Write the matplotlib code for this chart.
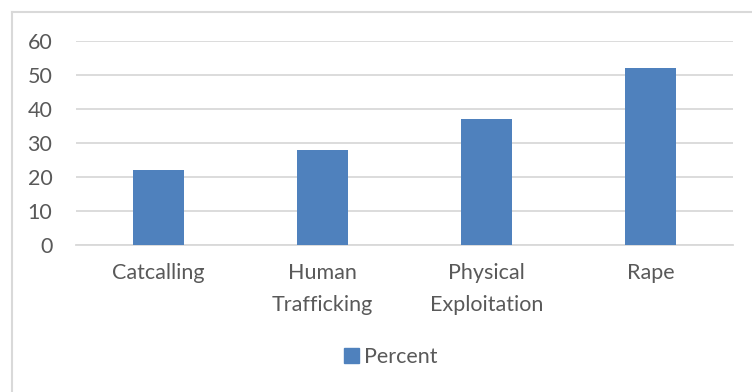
import matplotlib.pyplot as plt
from matplotlib.patches import Rectangle
from matplotlib.lines import Line2D

categories = ['Catcalling', 'Human\nTrafficking', 'Physical\nExploitation', 'Rape']
percent = [22, 28, 37, 52]
yticks = [0, 10, 20, 30, 40, 50, 60]

bar_color = '#4F81BD'
text_color = '#595959'
grid_color = '#D9D9D9'

plt.rcParams['font.family'] = ['Lato', 'DejaVu Sans']

fig = plt.figure(figsize=(7.52, 3.92), dpi=100)
ax = fig.add_axes([76 / 752, 1 - 245 / 392, (733 - 76) / 752, (245 - 41) / 392])

x = range(len(categories))
ax.bar(x, percent, width=0.31, color=bar_color, zorder=3, label='Percent')

ax.set_xlim(-0.5, len(categories) - 0.5)
ax.set_ylim(0, 60)
ax.set_yticks(yticks)
ax.set_yticklabels([str(t) for t in yticks])
ax.set_xticks(list(x))
ax.set_xticklabels(categories, linespacing=1.75)

ax.yaxis.grid(True, color=grid_color, linewidth=1.3, zorder=0)
ax.set_axisbelow(True)
for side in ['top', 'right', 'left']:
    ax.spines[side].set_visible(False)
ax.spines['bottom'].set_color(grid_color)
ax.spines['bottom'].set_linewidth(1.3)

ax.tick_params(axis='both', length=0, labelsize=15.5, colors=text_color)
ax.tick_params(axis='y', pad=17)
ax.tick_params(axis='x', pad=13)

# chart frame (only top and left edges fall inside the canvas)
fig.add_artist(Line2D([12 / 752, 1], [1 - 12 / 392] * 2, color=grid_color,
                      linewidth=1.5, transform=fig.transFigure))
fig.add_artist(Line2D([12 / 752] * 2, [0, 1 - 12 / 392], color=grid_color,
                      linewidth=1.5, transform=fig.transFigure))

fig.legend(handles=[Rectangle((0, 0), 1, 1, color=bar_color)], labels=['Percent'],
           loc='center', bbox_to_anchor=(391 / 752, 1 - 357 / 392), frameon=False,
           fontsize=15.5, labelcolor=text_color, handlelength=0.7, handleheight=0.7,
           handletextpad=0.25)

fig.savefig('out.png', dpi=100, facecolor='white')
